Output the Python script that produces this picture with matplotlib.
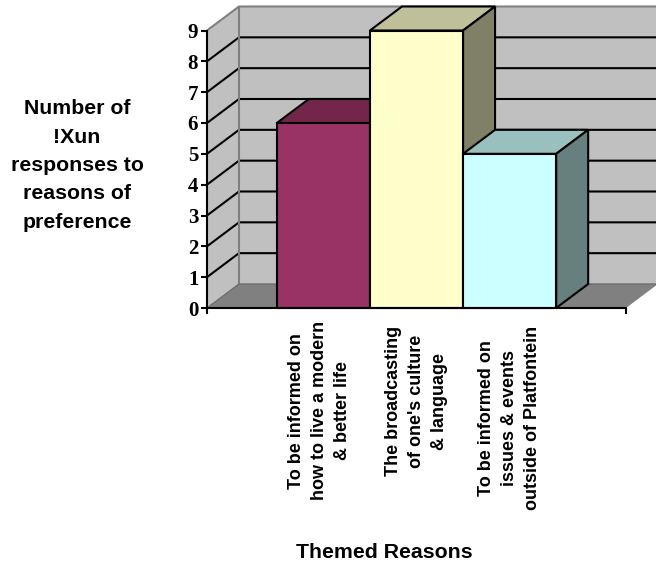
import matplotlib
matplotlib.use("Agg")
import matplotlib.pyplot as plt
from matplotlib.patches import Polygon
from matplotlib.transforms import Affine2D

categories = [
    "To be informed on\nhow to live a modern\n& better life",
    "The broadcasting\nof one's culture\n& language",
    "To be informed on\nissues & events\noutside of Platfontein",
]
responses = [6, 9, 5]
front_colors = ["#993366", "#FFFFCC", "#CCFFFF"]
top_colors = ["#732649", "#BFBF99", "#99BFBF"]
side_colors = ["#4D1933", "#808066", "#668080"]
value_ticks = list(range(10))

W, H = 656, 564
fig = plt.figure(figsize=(W / 100, H / 100), dpi=100, facecolor="white")

# Front plane of the oblique box: three touching bars with margins either side
left, right, base, top = 207, 626, 308, 30.5
ax = fig.add_axes([left / W, 1 - base / H, (right - left) / W, (base - top) / H])
ax.set_xlim(-1.25, 3.25)
ax.set_ylim(0, 9)
ax.patch.set_visible(False)

# Receding offset of the box, expressed in data units
x0_axis, x1_axis = ax.get_xlim()
DX = 32 / ((right - left) / (x1_axis - x0_axis))
DY = 24 / ((base - top) / 9)
LW = 1.5


def poly(points, face, edge="none", lw=0, z=1):
    ax.add_patch(Polygon(points, closed=True, facecolor=face, edgecolor=edge,
                         linewidth=lw, zorder=z, clip_on=False, joinstyle="miter"))


ymax = value_ticks[-1]
far = x1_axis + DX
near = x0_axis + DX

# Walls and floor
poly([(x0_axis, 0), (near, DY), (near, ymax + DY), (x0_axis, ymax)], "#C0C0C0", z=1)
poly([(near, DY), (far, DY), (far, ymax + DY), (near, ymax + DY)], "#C0C0C0", z=1)
poly([(x0_axis, 0), (x1_axis, 0), (far, DY), (near, DY)], "#808080", z=1)

# Gridlines run along the side wall and across the back wall
for v in value_ticks[1:-1]:
    ax.plot([x0_axis, near, far], [v, v + DY, v + DY], color="black", lw=LW,
            zorder=2, clip_on=False, solid_joinstyle="miter")

# Grey wall outlines
ax.plot([near, near], [DY, ymax + DY], color="#808080", lw=LW, zorder=2, clip_on=False)
ax.plot([x0_axis, near, far], [ymax, ymax + DY, ymax + DY], color="#808080", lw=LW,
        zorder=2, clip_on=False)
ax.plot([x0_axis, near, far], [0, DY, DY], color="#6E6E6E", lw=1.0, zorder=2,
        clip_on=False)

# Bars: front face through ax.bar, then top and side faces
centers = list(range(len(responses)))
width = 1
for i, (c, v) in enumerate(zip(centers, responses)):
    x0, x1 = c - width / 2, c + width / 2
    z = 3 + i
    poly([(x0, v), (x1, v), (x1 + DX, v + DY), (x0 + DX, v + DY)], top_colors[i],
         "black", LW, z)
    poly([(x1, 0), (x1 + DX, DY), (x1 + DX, v + DY), (x1, v)], side_colors[i],
         "black", LW, z)
    ax.bar(c, v, width=width, color=front_colors[i], edgecolor="black",
           linewidth=LW, zorder=z, clip_on=False)

# Axes
for s in ("top", "right"):
    ax.spines[s].set_visible(False)
for s in ("left", "bottom"):
    ax.spines[s].set_linewidth(LW)
    ax.spines[s].set_zorder(10)

ax.set_yticks(value_ticks)
ax.set_yticklabels([str(v) for v in value_ticks], family="Liberation Serif",
                   fontweight="bold", fontsize=15)
ax.tick_params(axis="y", length=4.3, width=LW, pad=2)

ax.set_xticks([x0_axis, x1_axis])
ax.set_xticklabels([])
ax.tick_params(axis="x", which="major", length=4, width=LW)
ax.set_xticks(centers, minor=True)
ax.set_xticklabels(categories, minor=True, rotation=90, ha="center", va="top",
                   multialignment="center", family="Liberation Sans",
                   fontweight="bold", fontsize=13, linespacing=1.49)
ax.tick_params(axis="x", which="minor", length=0, pad=13)

# The first label block sits slightly left of its bar and starts a little higher
first = ax.xaxis.get_minorticklabels()[0]
first.set_transform(first.get_transform() + Affine2D().translate(-4, 5))

fig.text(77 / W, 1 - 165.5 / H, "Number of\n!Xun\nresponses to\nreasons of\npreference",
         ha="center", va="center", family="Liberation Sans", fontweight="bold",
         fontsize=15.3, linespacing=1.63)
fig.text(384 / W, 1 - 553 / H, "Themed Reasons", ha="center", va="center",
         family="Liberation Sans", fontweight="bold", fontsize=15.3)

fig.savefig("out.png", dpi=100, facecolor="white")
